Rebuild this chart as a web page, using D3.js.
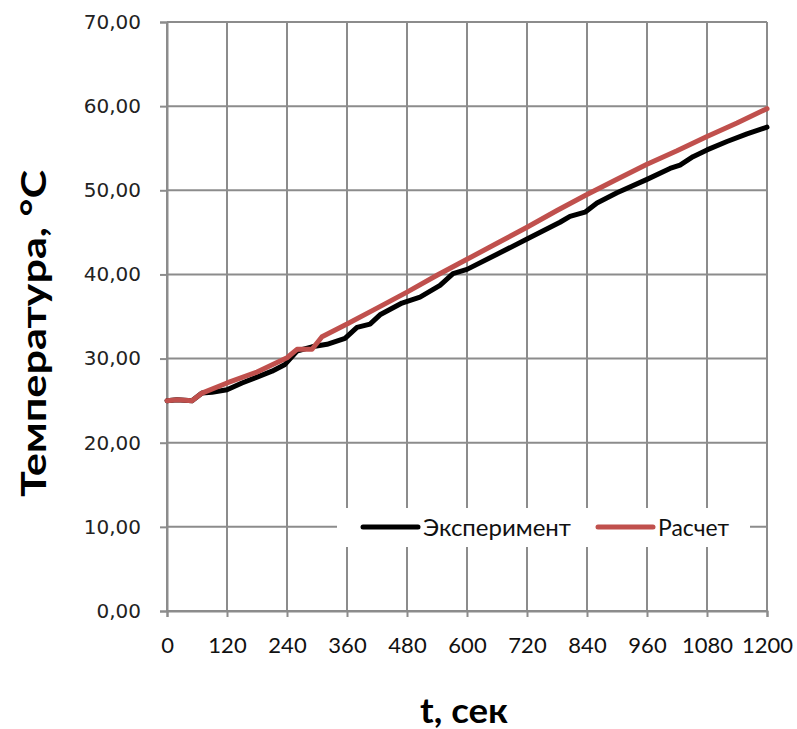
<!DOCTYPE html>
<html>
<head>
<meta charset="utf-8">
<script src="https://cdn.jsdelivr.net/npm/d3@7"></script>
<style>
  body { margin: 0; background: #fff; }
  svg { display: block; }
</style>
</head>
<body>
<svg id="chart"></svg>
<script>
// Эксперимент (measured) — time, sec / temperature, °C
const timeExp = [0, 20, 50, 70, 90, 120, 150, 180, 210, 236, 260, 290, 320, 356, 380, 406, 426, 470, 506, 546, 572, 600,
    660, 720, 786, 806, 836, 860, 900, 960, 1006, 1026, 1052, 1080, 1120, 1160, 1200];
const tempExp = [25.0, 25.1, 25.0, 25.9, 26.0, 26.3, 27.1, 27.8, 28.5, 29.3, 30.9, 31.4, 31.7, 32.4, 33.7, 34.1, 35.2, 36.6, 37.3, 38.7, 40.1, 40.6,
    42.4, 44.2, 46.2, 46.9, 47.4, 48.5, 49.7, 51.3, 52.6, 53.0, 54.0, 54.8, 55.8, 56.7, 57.5];

// Расчет (calculated)
const timeCalc = [0, 20, 50, 70, 120, 180, 240, 260, 290, 310, 360, 420, 480, 540, 600, 660, 720, 780, 840, 900, 960, 1020, 1080, 1140, 1200];
const tempCalc = [25.0, 25.1, 25.0, 25.9, 27.1, 28.4, 30.1, 31.1, 31.1, 32.6, 34.1, 36.0, 37.9, 39.9, 41.8, 43.7, 45.6, 47.6, 49.5, 51.3, 53.1, 54.7, 56.4, 58.0, 59.7];

const xTicks = [0, 120, 240, 360, 480, 600, 720, 840, 960, 1080, 1200];
const yTicks = [0, 10, 20, 30, 40, 50, 60, 70];

const seriesNames = ["Эксперимент", "Расчет"];
const seriesColors = ["#000000", "#c0504d"];

const W = 797, H = 729;
const margin = { top: 22, right: 30, bottom: 118, left: 167 };
const width = W - margin.left - margin.right,
      height = H - margin.top - margin.bottom;

const svg = d3.select("#chart").attr("width", W).attr("height", H);
const g = svg.append("g").attr("transform", `translate(${margin.left},${margin.top})`);

const x = d3.scaleLinear().domain([0, 1200]).range([0, width]);
const y = d3.scaleLinear().domain([0, 70]).range([height, 0]);

const gridColor = "#8c8c8c";

// grid lines
g.selectAll(".hgrid").data(yTicks).enter().append("line")
    .attr("x1", 0).attr("x2", width)
    .attr("y1", d => y(d)).attr("y2", d => y(d))
    .attr("stroke", gridColor).attr("stroke-width", 2);
g.selectAll(".vgrid").data(xTicks).enter().append("line")
    .attr("x1", d => x(d)).attr("x2", d => x(d))
    .attr("y1", 0).attr("y2", height)
    .attr("stroke", gridColor).attr("stroke-width", 2);

// axes
const fmt = d => d.toFixed(2).replace(".", ",");
const yAxis = g.append("g")
    .call(d3.axisLeft(y).tickValues(yTicks).tickSize(7).tickPadding(19).tickFormat(fmt));
yAxis.select(".domain").attr("stroke", gridColor).attr("stroke-width", 2);
yAxis.selectAll(".tick line").attr("stroke", gridColor).attr("stroke-width", 2);
yAxis.selectAll("text")
    .attr("fill", "#222")
    .style("font-family", "'DejaVu Sans', Verdana, sans-serif")
    .style("font-size", "20px");

const xAxis = g.append("g")
    .attr("transform", `translate(0,${height})`)
    .call(d3.axisBottom(x).tickValues(xTicks).tickSize(6).tickPadding(20).tickFormat(d3.format("d")));
xAxis.select(".domain").attr("stroke", gridColor).attr("stroke-width", 2);
xAxis.selectAll(".tick line").attr("stroke", gridColor).attr("stroke-width", 2);
xAxis.selectAll("text")
    .attr("fill", "#111")
    .style("font-family", "Lato, sans-serif")
    .style("font-size", "22px");

// lines
const line = d3.line().x(d => x(d[0])).y(d => y(d[1]));
const expData = timeExp.map((t, i) => [t, tempExp[i]]);
const calcData = timeCalc.map((t, i) => [t, tempCalc[i]]);

[expData, calcData].forEach((data, i) => {
    g.append("path")
        .datum(data)
        .attr("d", line)
        .attr("fill", "none")
        .attr("stroke", seriesColors[i])
        .attr("stroke-width", 5)
        .attr("stroke-linejoin", "round")
        .attr("stroke-linecap", "round");
});

// legend
const legend = svg.append("g");
legend.append("rect")
    .attr("x", 337).attr("y", 508).attr("width", 413).attr("height", 39)
    .attr("fill", "#fff");
const legendX = [363, 598];
const legendTextLen = [148, 71];
seriesNames.forEach((name, i) => {
    legend.append("line")
        .attr("x1", legendX[i]).attr("x2", legendX[i] + 55)
        .attr("y1", 527).attr("y2", 527)
        .attr("stroke", seriesColors[i]).attr("stroke-width", 5)
        .attr("stroke-linecap", "round");
    legend.append("text")
        .attr("x", legendX[i] + 60).attr("y", 536)
        .attr("fill", "#111")
        .attr("textLength", legendTextLen[i])
        .attr("lengthAdjust", "spacingAndGlyphs")
        .style("font-family", "Lato, sans-serif")
        .style("font-size", "24px")
        .text(name);
});

// axis titles
svg.append("text")
    .attr("transform", `translate(46,${margin.top + height / 2 + 17}) rotate(-90)`)
    .attr("text-anchor", "middle")
    .attr("textLength", 327)
    .attr("lengthAdjust", "spacingAndGlyphs")
    .style("font-family", "Lato, sans-serif")
    .style("font-weight", "bold")
    .style("font-size", "34px")
    .attr("fill", "#000")
    .text("Температура, °С");

svg.append("text")
    .attr("x", 464)
    .attr("y", 723)
    .attr("text-anchor", "middle")
    .attr("textLength", 88)
    .attr("lengthAdjust", "spacingAndGlyphs")
    .style("font-family", "Lato, sans-serif")
    .style("font-weight", "bold")
    .style("font-size", "34px")
    .attr("fill", "#000")
    .text("t, сек");
</script>
</body>
</html>
